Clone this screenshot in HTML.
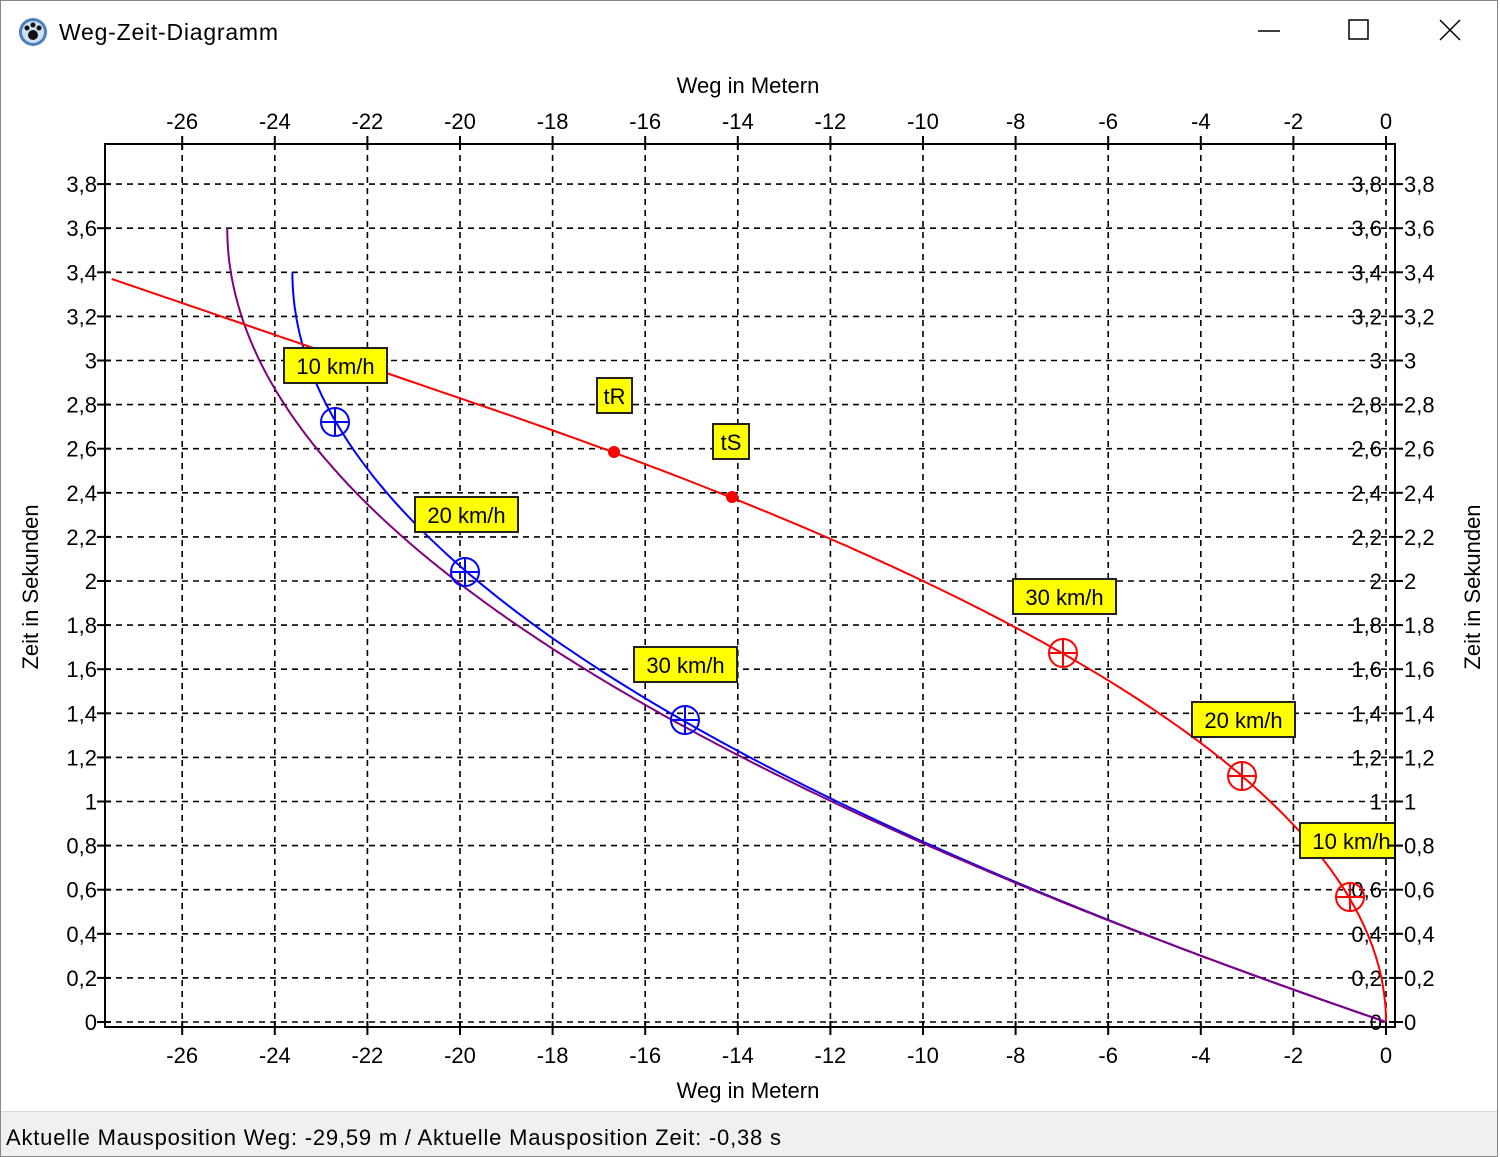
<!DOCTYPE html>
<html><head><meta charset="utf-8"><style>
html,body{margin:0;padding:0;background:#fff;width:1500px;height:1157px;overflow:hidden;font-family:"Liberation Sans",sans-serif;}
</style></head><body>
<svg id="s" width="1500" height="1157" xmlns="http://www.w3.org/2000/svg" font-family="Liberation Sans, sans-serif">
<defs><clipPath id="cp"><rect x="106" y="145" width="1288" height="881"/></clipPath></defs>
<rect x="0" y="0" width="1500" height="1157" fill="#fff"/>
<rect x="0.5" y="0.5" width="1497" height="1156" fill="none" stroke="#888"/>
<rect x="1" y="1112" width="1496" height="44" fill="#f0f0f0"/>
<line x1="1" y1="1111.5" x2="1497" y2="1111.5" stroke="#d8d8d8"/>
<text x="6" y="1145" font-size="22" fill="#000" textLength="775" lengthAdjust="spacing">Aktuelle Mausposition Weg: -29,59 m / Aktuelle Mausposition Zeit: -0,38 s</text>
<circle cx="33" cy="32" r="14" fill="#4a7fc0"/><circle cx="33" cy="32" r="11" fill="#cfe0f5"/><circle cx="33" cy="35" r="5" fill="#111"/><circle cx="27" cy="28" r="2.5" fill="#111"/><circle cx="33" cy="25" r="2.5" fill="#111"/><circle cx="39" cy="28" r="2.5" fill="#111"/>
<text x="59" y="40" font-size="23" fill="#000" textLength="219" lengthAdjust="spacing">Weg-Zeit-Diagramm</text>
<line x1="1258" y1="31" x2="1280" y2="31" stroke="#000" stroke-width="1.5"/>
<rect x="1349" y="20" width="19" height="19" fill="none" stroke="#000" stroke-width="1.5"/>
<path d="M1440 20 L1460 40 M1460 20 L1440 40" stroke="#000" stroke-width="1.5"/>
<g id="g"></g>
</svg>
<script>
const g=document.getElementById('g');const NS='http://www.w3.org/2000/svg';
function el(t,a,txt,par){const e=document.createElementNS(NS,t);for(const k in a)e.setAttribute(k,a[k]);if(txt!==undefined&&txt!==null)e.textContent=txt;(par||g).appendChild(e);return e;}
const X=v=>1386+46.3*v, Y=t=>1022-220.5*t;
const L=105,T=144,R=1395,B=1027;
for(let v=-26;v<=0;v+=2){const x=X(v);
 el('line',{x1:x,y1:T,x2:x,y2:B,stroke:'#000','stroke-dasharray':'6,5','stroke-width':1.6});
 el('line',{x1:x,y1:T-8,x2:x,y2:T+6,stroke:'#000','stroke-width':2});
 el('line',{x1:x,y1:B-6,x2:x,y2:B+8,stroke:'#000','stroke-width':2});
 el('text',{x:x,y:129,'font-size':22,'text-anchor':'middle'},String(v));
 el('text',{x:x,y:1063,'font-size':22,'text-anchor':'middle'},String(v));}
for(let i=0;i<=19;i++){const t=i*0.2,y=Y(t);const s=(Math.round(t*10)/10).toString().replace('.',',');
 el('line',{x1:L,y1:y,x2:R,y2:y,stroke:'#000','stroke-dasharray':'6,5','stroke-width':1.6});
 el('line',{x1:L-8,y1:y,x2:L+6,y2:y,stroke:'#000','stroke-width':2});
 el('line',{x1:R-6,y1:y,x2:R+8,y2:y,stroke:'#000','stroke-width':2});
 el('text',{x:97,y:y+8,'font-size':22,'text-anchor':'end'},s);
 el('text',{x:1404,y:y+8,'font-size':22},s);
 el('text',{x:1382,y:y+8,'font-size':22,'text-anchor':'end'},s);}
el('rect',{x:L,y:T,width:R-L,height:B-T,fill:'none',stroke:'#000','stroke-width':2});
el('text',{x:748,y:93,'font-size':22,'text-anchor':'middle'},'Weg in Metern');
el('text',{x:748,y:1098,'font-size':22,'text-anchor':'middle'},'Weg in Metern');
el('text',{x:38,y:587,'font-size':22,'text-anchor':'middle',transform:'rotate(-90 38 587)'},'Zeit in Sekunden');
el('text',{x:1480,y:587,'font-size':22,'text-anchor':'middle',transform:'rotate(-90 1480 587)'},'Zeit in Sekunden');
const cg=el('g',{'clip-path':'url(#cp)'});
function curve(f,t0,t1,col){let d='';for(let i=0;i<=300;i++){const t=t0+(t1-t0)*i/300;const x=f(t);d+=(i?'L':'M')+X(x).toFixed(1)+' '+Y(t).toFixed(1);}el('path',{d:d,fill:'none',stroke:col,'stroke-width':2},null,cg);}
const v0=13.9;
curve(t=>-(v0*t-4.09*t*t/2),0,3.4,'#0000ff');
curve(t=>-(v0*t-3.86*t*t/2),0,3.6,'#800080');
curve(t=>t<2.78?-2.5*t*t:-(2.5*2.78*2.78)-v0*(t-2.78),0,3.37,'#ff0000');
function mk(x,y,c){el('circle',{cx:x,cy:y,r:14,fill:'none',stroke:c,'stroke-width':2},null,cg);el('path',{d:`M${x-14} ${y}H${x+14}M${x} ${y-14}V${y+14}`,stroke:c,'stroke-width':2},null,cg);}
[[335,422],[465,572],[685,720]].forEach(p=>mk(p[0],p[1],'#0000ff'));
[[1063,653],[1242,776],[1350,897]].forEach(p=>mk(p[0],p[1],'#ff0000'));
el('circle',{cx:614,cy:452,r:6,fill:'#ff0000'});el('circle',{cx:732,cy:497,r:6,fill:'#ff0000'});
function lab(x,y,w,txt){el('rect',{x:x,y:y,width:w,height:35,fill:'#ffff00',stroke:'#222','stroke-width':2},null,cg);el('text',{x:x+w/2,y:y+26,'font-size':22,'text-anchor':'middle'},txt,cg);}
lab(284,348,103,'10 km/h');lab(597,378,35,'tR');lab(713,424,36,'tS');
lab(415,497,103,'20 km/h');lab(634,647,103,'30 km/h');lab(1013,579,103,'30 km/h');
lab(1192,702,103,'20 km/h');lab(1300,823,103,'10 km/h');
el('line',{x1:R,y1:T,x2:R,y2:B,stroke:'#000','stroke-width':2});
el('line',{x1:R-6,y1:Y(0.8),x2:R+8,y2:Y(0.8),stroke:'#000','stroke-width':2});
</script>
</body></html>
